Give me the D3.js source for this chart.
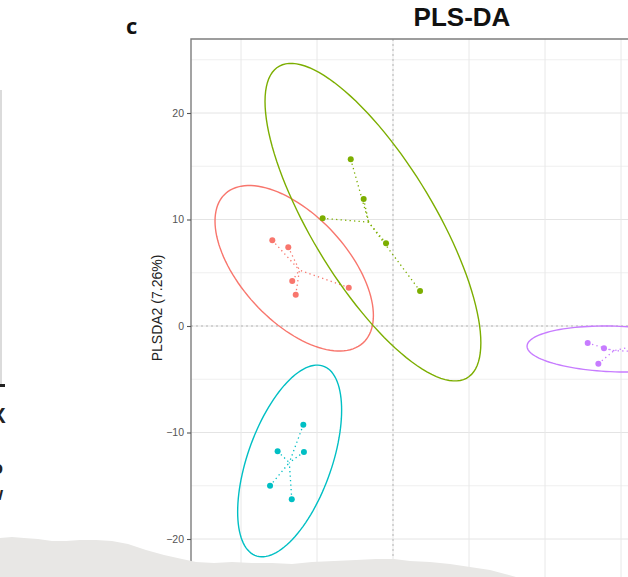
<!DOCTYPE html>
<html>
<head>
<meta charset="utf-8">
<script src="https://cdn.jsdelivr.net/npm/d3@7"></script>
<style>
  html, body { margin: 0; padding: 0; background: #fff; }
  svg { display: block; }
</style>
</head>
<body>
<div id="chart"></div>
<script>
// groups and their colours (ggplot defaults)
var groups = ['A', 'B', 'C', 'D'];
var colors = ['#F8766D', '#7CAE00', '#00BFC4', '#C77CFF'];

// sample scores per group
var scoresA = [[-7.94, 8.05], [-6.89, 7.39], [-6.63, 4.23], [-6.40, 2.94], [-2.91, 3.60]];
var scoresB = [[-2.78, 15.65], [-1.93, 11.92], [-4.63, 10.11], [-0.46, 7.77], [1.78, 3.29]];
var scoresC = [[-5.90, -9.27], [-7.59, -11.77], [-5.86, -11.83], [-8.09, -15.00], [-6.66, -16.27]];
var scoresD = [[12.81, -1.60], [13.88, -2.09], [13.51, -3.54], [15.86, -1.88], [16.64, -2.44]];

// 95% ellipses: centre x, centre y, half width, half height, correlation
var ellipseA = [-6.50, 5.42, 5.21, 7.77, -0.57];
var ellipseB = [-1.32, 9.75, 7.10, 14.91, -0.76];
var ellipseC = [-6.80, -12.67, 3.42, 9.00, 0.53];
var ellipseD = [14.61, -2.16, 5.79, 2.16, -0.12];

var yTicks = [-20, -10, 0, 10, 20];
var yMinor = [-25, -15, -5, 5, 15, 25];
var xGrid = [-15, -10, -5, 0, 5, 10, 15, 20];

var title = 'PLS-DA';
var yLabel = 'PLSDA2 (7.26%)';

// torn paper edge at the bottom of the crop (decoration)
var tornEdge = [[0,538],[12,537],[24,538],[38,539],[52,541],[66,541],[80,540],[96,540],[112,541],
  [128,544],[146,550],[164,555],[182,559],[196,562],[214,563],[232,562],[252,563],[272,563],
  [292,564],[312,562],[334,561],[356,560],[376,559],[394,559],[410,561],[430,562],[450,564],
  [470,567],[490,570],[505,574],[516,577]];

var W = 628, H = 577;
var panel = {left: 191, top: 39, right: 640, bottom: 600};

var svg = d3.select('#chart').append('svg')
  .attr('width', W).attr('height', H)
  .style('font-family', '"Liberation Sans", Arial, sans-serif');

var x = d3.scaleLinear().domain([-10, 10]).range([241, 545]);
var y = d3.scaleLinear().domain([-20, 20]).range([539, 113]);

svg.append('clipPath').attr('id', 'clip')
  .append('rect')
  .attr('x', panel.left).attr('y', panel.top)
  .attr('width', panel.right - panel.left).attr('height', panel.bottom - panel.top);

var plot = svg.append('g').attr('clip-path', 'url(#clip)');

// grid
plot.selectAll('line.gy').data(yTicks.concat(yMinor)).enter().append('line')
  .attr('class', 'gy')
  .attr('x1', panel.left).attr('x2', panel.right)
  .attr('y1', function(d){ return y(d); }).attr('y2', function(d){ return y(d); })
  .attr('stroke', function(d){ return yTicks.indexOf(d) >= 0 ? '#e4e4e4' : '#efefef'; })
  .attr('stroke-width', 1);

plot.selectAll('line.gx').data(xGrid).enter().append('line')
  .attr('class', 'gx')
  .attr('y1', panel.top).attr('y2', panel.bottom)
  .attr('x1', function(d){ return x(d); }).attr('x2', function(d){ return x(d); })
  .attr('stroke', '#e8e8e8').attr('stroke-width', 1);

// zero lines
plot.append('line')
  .attr('x1', panel.left).attr('x2', panel.right)
  .attr('y1', y(0)).attr('y2', y(0))
  .attr('stroke', '#b5b5b5').attr('stroke-width', 1).attr('stroke-dasharray', '2,3');
plot.append('line')
  .attr('x1', x(0)).attr('x2', x(0))
  .attr('y1', panel.top).attr('y2', panel.bottom)
  .attr('stroke', '#b5b5b5').attr('stroke-width', 1).attr('stroke-dasharray', '2,3');

var scores = [scoresA, scoresB, scoresC, scoresD];
var ellipses = [ellipseA, ellipseB, ellipseC, ellipseD];

var line = d3.line()
  .x(function(d){ return x(d[0]); })
  .y(function(d){ return y(d[1]); })
  .curve(d3.curveLinearClosed);

function ellipsePath(e) {
  var pts = [], n = 120, s = Math.sqrt(1 - e[4] * e[4]);
  for (var i = 0; i < n; i++) {
    var t = 2 * Math.PI * i / n;
    pts.push([e[0] + e[2] * Math.cos(t), e[1] + e[3] * (e[4] * Math.cos(t) + s * Math.sin(t))]);
  }
  return line(pts);
}

groups.forEach(function(g, i){
  var col = colors[i],
      pts = scores[i],
      cx = d3.mean(pts, function(d){ return d[0]; }),
      cy = d3.mean(pts, function(d){ return d[1]; }),
      grp = plot.append('g').attr('class', 'group-' + g);

  grp.append('path')
    .attr('d', ellipsePath(ellipses[i]))
    .attr('fill', 'none').attr('stroke', col).attr('stroke-width', 1.4);

  // spokes to the group centroid
  grp.selectAll('line').data(pts).enter().append('line')
    .attr('x1', function(d){ return x(d[0]); }).attr('y1', function(d){ return y(d[1]); })
    .attr('x2', x(cx)).attr('y2', y(cy))
    .attr('stroke', col).attr('stroke-width', 1.3).attr('stroke-dasharray', '1.3,3.2');

  grp.selectAll('circle').data(pts).enter().append('circle')
    .attr('cx', function(d){ return x(d[0]); }).attr('cy', function(d){ return y(d[1]); })
    .attr('r', 3).attr('fill', col);
});

// panel border (only left and top are inside the crop)
svg.append('path')
  .attr('d', 'M' + panel.left + ',' + panel.bottom + 'V' + panel.top + 'H' + panel.right)
  .attr('fill', 'none').attr('stroke', '#7d7d7d').attr('stroke-width', 1.4);

// y axis
var yAxis = svg.append('g')
  .attr('transform', 'translate(' + panel.left + ',0)')
  .call(d3.axisLeft(y).tickValues(yTicks).tickSize(4).tickPadding(3));
yAxis.select('.domain').remove();
yAxis.selectAll('.tick line').attr('stroke', '#555').attr('stroke-width', 1.1);
yAxis.selectAll('.tick text')
  .attr('fill', '#555').style('font-size', '10.5px')
  .style('font-family', '"Liberation Sans", Arial, sans-serif');

svg.append('text')
  .attr('transform', 'translate(162,308) rotate(-90)')
  .attr('text-anchor', 'middle')
  .attr('fill', '#222')
  .style('font-size', '14px')
  .text(yLabel);

svg.append('text')
  .attr('x', 462).attr('y', 26)
  .attr('text-anchor', 'middle')
  .attr('fill', '#111')
  .style('font-size', '26px').style('font-weight', 'bold')
  .text(title);

// panel tag
svg.append('text')
  .attr('x', 126).attr('y', 34)
  .attr('fill', '#111')
  .style('font-family', '"Open Sans", sans-serif')
  .style('font-size', '22px').style('font-weight', 'bold')
  .text('c');

// bits of the neighbouring panel cut off at the left edge
svg.append('line')
  .attr('x1', 1).attr('x2', 1).attr('y1', 90).attr('y2', 385)
  .attr('stroke', '#cfcfcf').attr('stroke-width', 1.5);
svg.append('line')
  .attr('x1', 0).attr('x2', 5).attr('y1', 385.5).attr('y2', 385.5)
  .attr('stroke', '#222').attr('stroke-width', 3);
svg.append('text').attr('x', -9).attr('y', 423)
  .attr('fill', '#222').style('font-size', '22px').style('font-weight', 'bold').text('X');
svg.append('text').attr('x', -8).attr('y', 474)
  .attr('fill', '#222').style('font-size', '18px').style('font-weight', 'bold').text('o');
svg.append('text').attr('x', -11).attr('y', 500)
  .attr('fill', '#222').style('font-size', '18px').style('font-weight', 'bold').text('w');

// torn paper
var torn = tornEdge.concat([[W, H], [W, H + 5], [0, H + 5]]);
svg.append('path')
  .attr('d', d3.line()(torn) + 'Z')
  .attr('fill', '#e8e7e5');
</script>
</body>
</html>
